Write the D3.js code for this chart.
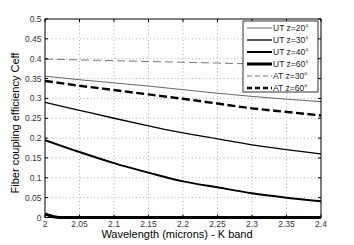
<!DOCTYPE html>
<html>
<head>
<meta charset="utf-8">
<script src="https://cdn.jsdelivr.net/npm/d3@7"></script>
<style>
  body { margin: 0; background: #fff; }
  svg { display: block; font-family: "Liberation Sans", Arial, sans-serif; }
</style>
</head>
<body>
<svg id="chart" width="354" height="245"></svg>
<script>
// wavelength samples (microns)
var wavelengths = [2.0, 2.05, 2.1, 2.15, 2.2, 2.25, 2.3, 2.35, 2.4];
var ut20 = [0.356, 0.347, 0.339, 0.331, 0.322, 0.313, 0.305, 0.298, 0.292];
var ut30 = [0.290, 0.270, 0.250, 0.231, 0.213, 0.198, 0.183, 0.171, 0.160];
var ut40 = [0.195, 0.165, 0.137, 0.113, 0.091, 0.076, 0.061, 0.050, 0.041];
var at30 = [0.399, 0.397, 0.395, 0.393, 0.391, 0.389, 0.387, 0.386, 0.385];
var at60 = [0.344, 0.332, 0.321, 0.310, 0.299, 0.287, 0.275, 0.266, 0.257];
// UT z=60 falls to zero right after 2.0
var wavelengths60 = [2.0, 2.005, 2.01, 2.015, 2.02, 2.1, 2.2, 2.3, 2.4];
var ut60 = [0.009, 0.006, 0.003, 0.001, 0.0, 0.0, 0.0, 0.0, 0.0];

var xTicks = [2, 2.05, 2.1, 2.15, 2.2, 2.25, 2.3, 2.35, 2.4];
var yTicks = [0, 0.05, 0.1, 0.15, 0.2, 0.25, 0.3, 0.35, 0.4, 0.45, 0.5];
var legendNames = ['UT z=20\u00b0', 'UT z=30\u00b0', 'UT z=40\u00b0', 'UT z=60\u00b0', 'AT z=30\u00b0', 'AT z=60\u00b0'];

var svg = d3.select('#chart');
var pLeft = 45, pRight = 321, pTop = 19, pBottom = 217.5;

var x = d3.scaleLinear().domain([2, 2.4]).range([pLeft, pRight]);
var y = d3.scaleLinear().domain([0, 0.5]).range([pBottom, pTop]);

svg.append('rect').attr('width', 354).attr('height', 245).attr('fill', '#fff');

// grid
var grid = svg.append('g').attr('stroke', '#9a9a9a').attr('stroke-width', 0.8).attr('stroke-dasharray', '1,2.5');
grid.selectAll('.gx').data(xTicks.slice(1, -1)).enter().append('line')
  .attr('x1', function (d) { return x(d); }).attr('x2', function (d) { return x(d); })
  .attr('y1', pTop).attr('y2', pBottom);
grid.selectAll('.gy').data(yTicks.slice(1, -1)).enter().append('line')
  .attr('y1', function (d) { return y(d); }).attr('y2', function (d) { return y(d); })
  .attr('x1', pLeft).attr('x2', pRight);

// series
var series = [
  { xs: wavelengths, ys: ut20, color: '#555', width: 0.9, dash: null },
  { xs: wavelengths, ys: ut30, color: '#000', width: 1.3, dash: null },
  { xs: wavelengths, ys: ut40, color: '#000', width: 2, dash: null },
  { xs: wavelengths60, ys: ut60, color: '#000', width: 3, dash: null },
  { xs: wavelengths, ys: at30, color: '#666', width: 0.9, dash: '8,4' },
  { xs: wavelengths, ys: at60, color: '#000', width: 2.4, dash: '8,3.5' }
];

var line = d3.line()
  .x(function (d) { return x(d[0]); })
  .y(function (d) { return y(d[1]); })
  .curve(d3.curveMonotoneX);

svg.append('defs').append('clipPath').attr('id', 'plotclip')
  .append('rect').attr('x', pLeft).attr('y', pTop - 2).attr('width', pRight - pLeft).attr('height', pBottom - pTop + 4);

svg.append('g').attr('clip-path', 'url(#plotclip)')
  .selectAll('path').data(series).enter().append('path')
  .attr('d', function (s) { return line(d3.zip(s.xs, s.ys)); })
  .attr('fill', 'none')
  .attr('stroke', function (s) { return s.color; })
  .attr('stroke-width', function (s) { return s.width; })
  .attr('stroke-dasharray', function (s) { return s.dash; });

// box with inward ticks on all sides
svg.append('rect').attr('x', pLeft).attr('y', pTop).attr('width', pRight - pLeft).attr('height', pBottom - pTop)
  .attr('fill', 'none').attr('stroke', '#000').attr('stroke-width', 1);

var ticks = svg.append('g').attr('stroke', '#000').attr('stroke-width', 1);
xTicks.forEach(function (t) {
  ticks.append('line').attr('x1', x(t)).attr('x2', x(t)).attr('y1', pBottom).attr('y2', pBottom - 3);
  ticks.append('line').attr('x1', x(t)).attr('x2', x(t)).attr('y1', pTop).attr('y2', pTop + 3);
});
yTicks.forEach(function (t) {
  ticks.append('line').attr('y1', y(t)).attr('y2', y(t)).attr('x1', pLeft).attr('x2', pLeft + 3);
  ticks.append('line').attr('y1', y(t)).attr('y2', y(t)).attr('x1', pRight).attr('x2', pRight - 3);
});

// tick labels
svg.append('g').selectAll('text').data(xTicks).enter().append('text')
  .attr('x', function (d) { return x(d); }).attr('y', 226.5)
  .attr('text-anchor', 'middle').attr('font-size', 8.5).attr('fill', '#333')
  .text(function (d) { return d3.format('')(d); });
svg.append('g').selectAll('text').data(yTicks).enter().append('text')
  .attr('x', 41.5).attr('y', function (d) { return y(d) + 3; })
  .attr('text-anchor', 'end').attr('font-size', 8.5).attr('fill', '#333')
  .text(function (d) { return d3.format('')(d); });

// axis titles
svg.append('text').attr('x', 177).attr('y', 237.5).attr('text-anchor', 'middle')
  .attr('font-size', 11).attr('fill', '#000').text('Wavelength (microns) - K band');
svg.append('text').attr('transform', 'translate(19,123) rotate(-90)').attr('text-anchor', 'middle')
  .attr('font-size', 11).attr('fill', '#000').text('Fiber coupling efficiency Ceff');

// legend
var lg = svg.append('g');
lg.append('rect').attr('x', 243).attr('y', 21).attr('width', 75).attr('height', 71)
  .attr('fill', '#fff').attr('stroke', '#000').attr('stroke-width', 0.8);
var rows = lg.selectAll('.row').data(series).enter().append('g')
  .attr('transform', function (s, i) { return 'translate(0,' + (28 + i * 12) + ')'; });
rows.append('line').attr('x1', 247).attr('x2', 272).attr('y1', 0).attr('y2', 0)
  .attr('stroke', function (s) { return s.color; })
  .attr('stroke-width', function (s) { return s.width; })
  .attr('stroke-dasharray', function (s) { return s.dash ? '5,3' : null; });
rows.append('text').attr('x', 273).attr('y', 3).attr('font-size', 8.5).attr('fill', '#222')
  .text(function (s, i) { return legendNames[i]; });
</script>
</body>
</html>
